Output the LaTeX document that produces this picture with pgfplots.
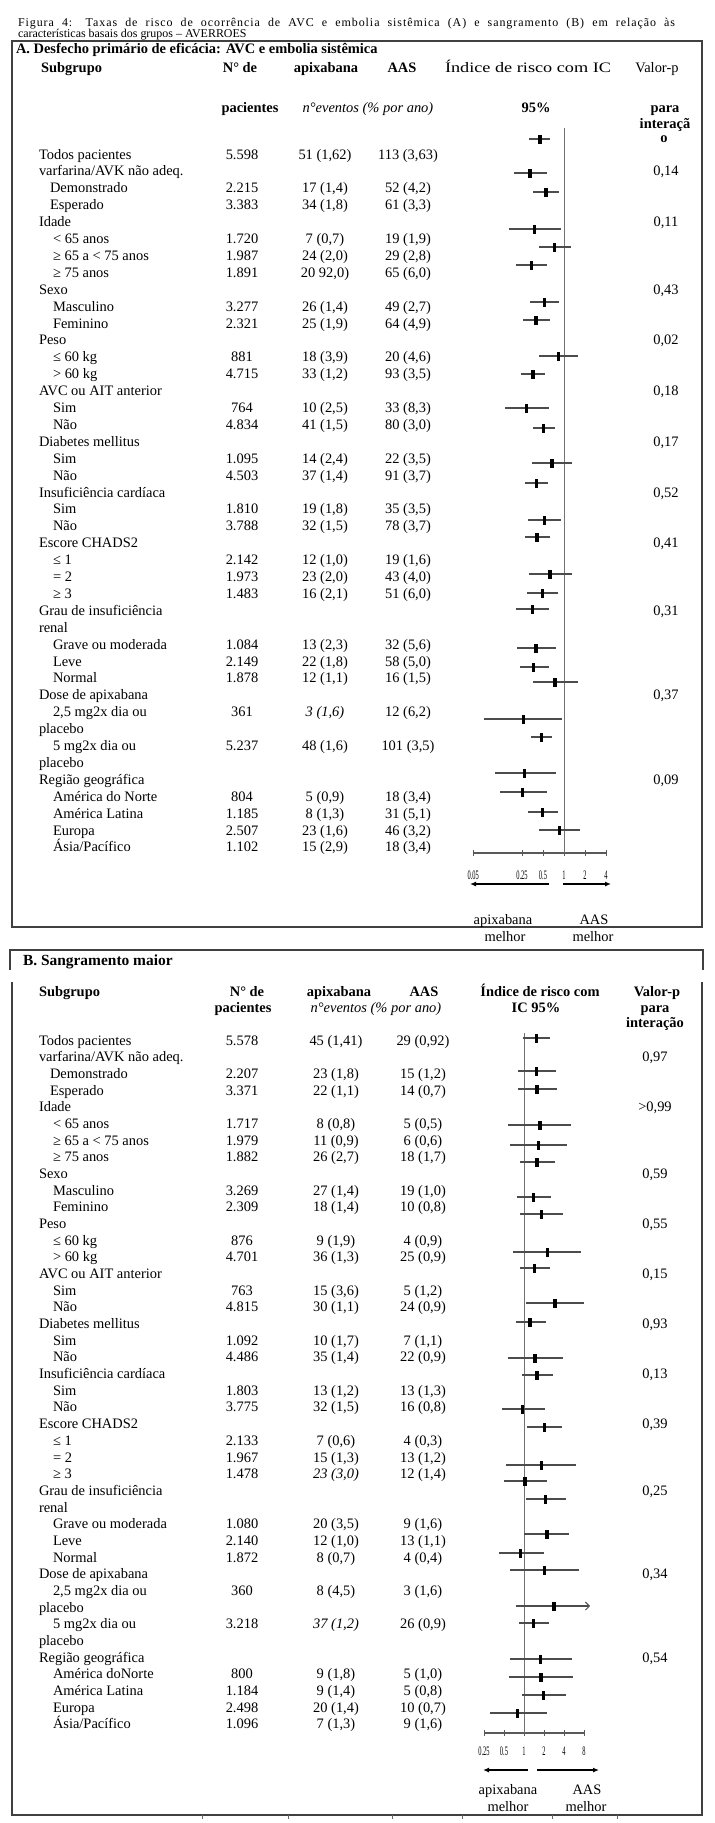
\documentclass[border=0pt]{standalone}
\usepackage{pgfplots}
\pgfplotsset{compat=1.18}
\usepackage{pgfplotstable}
\usepackage{graphicx}
\usepackage{fontspec}
\setmainfont{Liberation Serif}
\usetikzlibrary{arrows.meta}

\newcommand\fs{\fontsize{14.5}{17}\selectfont}
\newcommand\fsb{\fontsize{14.5}{17}\selectfont\bfseries}
\newcommand\fst{\fontsize{12}{13}\selectfont}
\newcommand\sq[1]{\scalebox{0.5}[1]{#1}}

\pgfdeclareplotmark{vbar}{\pgfpathrectangle{\pgfpoint{-1.7bp}{-4.5bp}}{\pgfpoint{3.4bp}{9bp}}\pgfusepathqfill}

\pgfplotstableread{
y lo hr hi
-139 0.32 0.45 0.62
-173 0.194 0.326 0.565
-192 0.363 0.552 0.848
-229 0.163 0.375 0.897
-247 0.438 0.727 1.25
-265 0.205 0.344 0.577
-302 0.326 0.522 0.84
-320 0.255 0.397 0.63
-356 0.443 0.84 1.57
-374 0.245 0.359 0.534
-408 0.144 0.289 0.603
-428 0.356 0.506 0.743
-463 0.344 0.673 1.30
-483 0.276 0.401 0.596
-520 0.302 0.522 0.906
-537 0.276 0.41 0.63
-574 0.318 0.63 1.29
-593 0.292 0.489 0.82
-609 0.205 0.352 0.616
-648 0.212 0.397 0.768
-667 0.234 0.368 0.616
-682 0.356 0.743 1.59
-719 0.072 0.261 0.936
-737 0.337 0.473 0.68
-773 0.1015 0.27 0.76
-792 0.122 0.253 0.565
-812 0.305 0.489 0.82
-830 0.443 0.857 1.70
}\forestA

\pgfplotstableread{
y lo hr hi
-1038 0.96 1.54 2.45
-1071 0.82 1.55 3.03
-1089 0.80 1.57 3.10
-1125 0.57 1.74 5.16
-1145 0.62 1.64 4.40
-1162 0.87 1.57 2.93
-1197 0.79 1.40 2.52
-1214 0.87 1.85 3.90
-1252 0.69 2.24 7.10
-1268 0.87 1.43 2.46
-1303 1.07 2.93 8.00
-1322 0.75 1.23 2.14
-1358 0.58 1.46 3.90
-1375 0.94 1.57 2.70
-1409 0.46 0.955 2.07
-1427 1.10 2.02 3.78
-1465 0.53 1.85 6.06
-1481 0.50 1.035 2.20
-1499 1.07 2.09 4.24
-1534 1.01 2.22 4.80
-1553 0.42 0.89 2.02
-1570 0.62 2.02 6.66
-1606 0.76 2.83 9.3
-1623 0.85 1.38 2.38
-1659 0.62 1.78 5.28
-1677 0.60 1.80 5.40
-1695 0.92 1.95 4.24
-1713 0.31 0.79 2.22
}\forestB

% rows: k, x, label, N, apix, AAS
\newcommand\RA[6]{%
  \node[anchor=base west] at (#2,{-(159+16.9*#1)}) {#3};
  \node[anchor=base] at (242,{-(159+16.9*#1)}) {#4};
  \node[anchor=base] at (325,{-(159+16.9*#1)}) {#5};
  \node[anchor=base] at (408,{-(159+16.9*#1)}) {#6};}
\newcommand\RB[6]{%
  \node[anchor=base west] at (#2,{-(1045+16.68*#1)}) {#3};
  \node[anchor=base] at (242,{-(1045+16.68*#1)}) {#4};
  \node[anchor=base] at (336,{-(1045+16.68*#1)}) {#5};
  \node[anchor=base] at (423,{-(1045+16.68*#1)}) {#6};}
\newcommand\PA[2]{\node[anchor=base] at (666,{-(159+16.9*#1)}) {#2};}
\newcommand\PB[2]{\node[anchor=base] at (655,{-(1045+16.68*#1)}) {#2};}

\begin{document}
\begin{tikzpicture}[x=1bp,y=1bp,every node/.style={inner sep=0pt,outer sep=0pt,font=\fs}]
\useasboundingbox (0,0) rectangle (715,-1823);

% ---------- title ----------
\node[anchor=base west,font=\fst] at (18,-26) {\addfontfeatures{LetterSpace=8}\makebox[657bp][s]{Figura 4: Taxas de risco de ocorrência de AVC e embolia sistêmica (A) e sangramento (B) em relação às}};
\node[anchor=base west,font=\fst] at (18,-37.5) {características basais dos grupos – AVERROES};

% ---------- panel A box ----------
\draw[line width=1.4bp,black!75] (12,-41) rectangle (702,-927);
\node[anchor=base west,font=\fsb] at (16,-53) {A. Desfecho primário de eficácia: AVC e embolia sistêmica};
\node[anchor=base west,font=\fsb] at (41,-72) {Subgrupo};
\node[anchor=base,font=\fsb] at (240,-72) {N° de};
\node[anchor=base,font=\fsb] at (326,-72) {apixabana};
\node[anchor=base,font=\fsb] at (402,-72) {AAS};
\node[anchor=base west] at (445,-72) {\resizebox{166bp}{\height}{Índice de risco com IC}};
\node[anchor=base] at (657,-72) {Valor-p};
\node[anchor=base,font=\fsb] at (250,-112) {pacientes};
\node[anchor=base,font=\fs\itshape] at (368,-112) {n°eventos (\% por ano)};
\node[anchor=base,font=\fsb] at (536,-112) {95\%};
\node[anchor=base,font=\fsb] at (665,-112) {para};
\node[anchor=base,font=\fsb] at (665,-128) {interaçã};
\node[anchor=base,font=\fsb] at (664,-142) {o};

\RA{0}{39}{Todos pacientes}{5.598}{51 (1,62)}{113 (3,63)}
\RA{1}{39}{varfarina/AVK não adeq.}{}{}{}
\RA{2}{50}{Demonstrado}{2.215}{17 (1,4)}{52 (4,2)}
\RA{3}{50}{Esperado}{3.383}{34 (1,8)}{61 (3,3)}
\RA{4}{39}{Idade}{}{}{}
\RA{5}{53}{< 65 anos}{1.720}{7 (0,7)}{19 (1,9)}
\RA{6}{53}{≥ 65 a < 75 anos}{1.987}{24 (2,0)}{29 (2,8)}
\RA{7}{53}{≥ 75 anos}{1.891}{20 92,0)}{65 (6,0)}
\RA{8}{39}{Sexo}{}{}{}
\RA{9}{53}{Masculino}{3.277}{26 (1,4)}{49 (2,7)}
\RA{10}{53}{Feminino}{2.321}{25 (1,9)}{64 (4,9)}
\RA{11}{39}{Peso}{}{}{}
\RA{12}{53}{≤ 60 kg}{881}{18 (3,9)}{20 (4,6)}
\RA{13}{53}{> 60 kg}{4.715}{33 (1,2)}{93 (3,5)}
\RA{14}{39}{AVC ou AIT anterior}{}{}{}
\RA{15}{53}{Sim}{764}{10 (2,5)}{33 (8,3)}
\RA{16}{53}{Não}{4.834}{41 (1,5)}{80 (3,0)}
\RA{17}{39}{Diabetes mellitus}{}{}{}
\RA{18}{53}{Sim}{1.095}{14 (2,4)}{22 (3,5)}
\RA{19}{53}{Não}{4.503}{37 (1,4)}{91 (3,7)}
\RA{20}{39}{Insuficiência cardíaca}{}{}{}
\RA{21}{53}{Sim}{1.810}{19 (1,8)}{35 (3,5)}
\RA{22}{53}{Não}{3.788}{32 (1,5)}{78 (3,7)}
\RA{23}{39}{Escore CHADS2}{}{}{}
\RA{24}{53}{≤ 1}{2.142}{12 (1,0)}{19 (1,6)}
\RA{25}{53}{= 2}{1.973}{23 (2,0)}{43 (4,0)}
\RA{26}{53}{≥ 3}{1.483}{16 (2,1)}{51 (6,0)}
\RA{27}{39}{Grau de insuficiência}{}{}{}
\RA{28}{39}{renal}{}{}{}
\RA{29}{53}{Grave ou moderada}{1.084}{13 (2,3)}{32 (5,6)}
\RA{30}{53}{Leve}{2.149}{22 (1,8)}{58 (5,0)}
\RA{31}{53}{Normal}{1.878}{12 (1,1)}{16 (1,5)}
\RA{32}{39}{Dose de apixabana}{}{}{}
\RA{33}{53}{2,5 mg2x dia ou}{361}{\itshape 3 (1,6)}{12 (6,2)}
\RA{34}{39}{placebo}{}{}{}
\RA{35}{53}{5 mg2x dia ou}{5.237}{48 (1,6)}{101 (3,5)}
\RA{36}{39}{placebo}{}{}{}
\RA{37}{39}{Região geográfica}{}{}{}
\RA{38}{53}{América do Norte}{804}{5 (0,9)}{18 (3,4)}
\RA{39}{53}{América Latina}{1.185}{8 (1,3)}{31 (5,1)}
\RA{40}{53}{Europa}{2.507}{23 (1,6)}{46 (3,2)}
\RA{41}{53}{Ásia/Pacífico}{1.102}{15 (2,9)}{18 (3,4)}

\PA{1}{0,14}\PA{4}{0,11}\PA{8}{0,43}\PA{11}{0,02}\PA{14}{0,18}\PA{17}{0,17}
\PA{20}{0,52}\PA{23}{0,41}\PA{27}{0,31}\PA{32}{0,37}\PA{37}{0,09}

\begin{axis}[
  at={(473.24bp,-853bp)}, anchor=south west,
  scale only axis, width=132.76bp, height=725bp,
  xmode=log, xmin=0.05, xmax=4, ymin=-853, ymax=-128,
  axis x line*=bottom, axis y line=none,
  x axis line style={-, black!65, line width=1.3bp},
  xtick={0.05,0.25,0.5,1,2,4}, minor xtick={},
  xticklabels={\sq{0.05},\sq{0.25},\sq{0.5},\sq{1},\sq{2},\sq{4}},
  xticklabel style={font=\fontsize{13}{13}\selectfont, anchor=center, yshift=-19bp},
  major tick length=6bp, tick align=center,
  every tick/.style={black!65, line width=1bp},
  clip=false,
]
\addplot[black!55, line width=1bp] coordinates {(1,-128) (1,-853)};
\addplot[only marks, mark=vbar, black, error bars/.cd, x dir=both, x explicit, error mark=none,
  error bar style={line width=1.3bp, black!70}]
  table[x=hr, y=y, x error plus expr=\thisrow{hi}-\thisrow{hr}, x error minus expr=\thisrow{hr}-\thisrow{lo}] {\forestA};
\addplot[only marks, mark=vbar, black] table[x=hr, y=y] {\forestA};
\end{axis}

\draw[line width=1.4bp, -{Latex[length=6bp,width=5bp]}] (549,-884) -- (470,-884);
\draw[line width=1.4bp, -{Latex[length=6bp,width=5bp]}] (563,-884) -- (611,-884);
\node[anchor=base] at (503,-924) {apixabana};
\node[anchor=base] at (505,-941) {melhor};
\node[anchor=base] at (594,-924) {AAS};
\node[anchor=base] at (593,-941) {melhor};

% ---------- panel B box ----------
\draw[line width=1.4bp,black!75] (10,-970) -- (10,-950) -- (703,-950) -- (703,-970);
\draw[line width=1.4bp,black!75] (12,-982) -- (12,-1815) -- (702,-1815) -- (702,-982);
\foreach \xx in {202,288,392,462,552,617} \draw[black!60,line width=0.8bp] (\xx,-1815) -- (\xx,-1819);
\node[anchor=base west,font=\fontsize{15.5}{17}\selectfont\bfseries] at (23,-965) {B. Sangramento maior};
\node[anchor=base west,font=\fsb] at (39,-996) {Subgrupo};
\node[anchor=base,font=\fsb] at (247,-996) {N° de};
\node[anchor=base,font=\fsb] at (339,-996) {apixabana};
\node[anchor=base,font=\fsb] at (424,-996) {AAS};
\node[anchor=base,font=\fsb] at (540,-996) {Índice de risco com};
\node[anchor=base,font=\fsb] at (657,-996) {Valor-p};
\node[anchor=base,font=\fsb] at (243,-1012) {pacientes};
\node[anchor=base,font=\fs\itshape] at (376,-1012) {n°eventos (\% por ano)};
\node[anchor=base,font=\fsb] at (536,-1012) {IC 95\%};
\node[anchor=base,font=\fsb] at (655,-1012) {para};
\node[anchor=base,font=\fsb] at (655,-1027) {interação};

\RB{0}{39}{Todos pacientes}{5.578}{45 (1,41)}{29 (0,92)}
\RB{1}{39}{varfarina/AVK não adeq.}{}{}{}
\RB{2}{50}{Demonstrado}{2.207}{23 (1,8)}{15 (1,2)}
\RB{3}{50}{Esperado}{3.371}{22 (1,1)}{14 (0,7)}
\RB{4}{39}{Idade}{}{}{}
\RB{5}{53}{< 65 anos}{1.717}{8 (0,8)}{5 (0,5)}
\RB{6}{53}{≥ 65 a < 75 anos}{1.979}{11 (0,9)}{6 (0,6)}
\RB{7}{53}{≥ 75 anos}{1.882}{26 (2,7)}{18 (1,7)}
\RB{8}{39}{Sexo}{}{}{}
\RB{9}{53}{Masculino}{3.269}{27 (1,4)}{19 (1,0)}
\RB{10}{53}{Feminino}{2.309}{18 (1,4)}{10 (0,8)}
\RB{11}{39}{Peso}{}{}{}
\RB{12}{53}{≤ 60 kg}{876}{9 (1,9)}{4 (0,9)}
\RB{13}{53}{> 60 kg}{4.701}{36 (1,3)}{25 (0,9)}
\RB{14}{39}{AVC ou AIT anterior}{}{}{}
\RB{15}{53}{Sim}{763}{15 (3,6)}{5 (1,2)}
\RB{16}{53}{Não}{4.815}{30 (1,1)}{24 (0,9)}
\RB{17}{39}{Diabetes mellitus}{}{}{}
\RB{18}{53}{Sim}{1.092}{10 (1,7)}{7 (1,1)}
\RB{19}{53}{Não}{4.486}{35 (1,4)}{22 (0,9)}
\RB{20}{39}{Insuficiência cardíaca}{}{}{}
\RB{21}{53}{Sim}{1.803}{13 (1,2)}{13 (1,3)}
\RB{22}{53}{Não}{3.775}{32 (1,5)}{16 (0,8)}
\RB{23}{39}{Escore CHADS2}{}{}{}
\RB{24}{53}{≤ 1}{2.133}{7 (0,6)}{4 (0,3)}
\RB{25}{53}{= 2}{1.967}{15 (1,3)}{13 (1,2)}
\RB{26}{53}{≥ 3}{1.478}{\itshape 23 (3,0)}{12 (1,4)}
\RB{27}{39}{Grau de insuficiência}{}{}{}
\RB{28}{39}{renal}{}{}{}
\RB{29}{53}{Grave ou moderada}{1.080}{20 (3,5)}{9 (1,6)}
\RB{30}{53}{Leve}{2.140}{12 (1,0)}{13 (1,1)}
\RB{31}{53}{Normal}{1.872}{8 (0,7)}{4 (0,4)}
\RB{32}{39}{Dose de apixabana}{}{}{}
\RB{33}{53}{2,5 mg2x dia ou}{360}{8 (4,5)}{3 (1,6)}
\RB{34}{39}{placebo}{}{}{}
\RB{35}{53}{5 mg2x dia ou}{3.218}{\itshape 37 (1,2)}{26 (0,9)}
\RB{36}{39}{placebo}{}{}{}
\RB{37}{39}{Região geográfica}{}{}{}
\RB{38}{53}{América doNorte}{800}{9 (1,8)}{5 (1,0)}
\RB{39}{53}{América Latina}{1.184}{9 (1,4)}{5 (0,8)}
\RB{40}{53}{Europa}{2.498}{20 (1,4)}{10 (0,7)}
\RB{41}{53}{Ásia/Pacífico}{1.096}{7 (1,3)}{9 (1,6)}

\PB{1}{0,97}\PB{4}{>0,99}\PB{8}{0,59}\PB{11}{0,55}\PB{14}{0,15}\PB{17}{0,93}
\PB{20}{0,13}\PB{23}{0,39}\PB{27}{0,25}\PB{32}{0,34}\PB{37}{0,54}

\begin{axis}[
  at={(484bp,-1733bp)}, anchor=south west,
  scale only axis, width=100bp, height=703bp,
  xmode=log, xmin=0.25, xmax=8, ymin=-1733, ymax=-1030,
  axis x line*=bottom, axis y line=none,
  x axis line style={-, black!65, line width=1.3bp},
  xtick={0.25,0.5,1,2,4,8}, minor xtick={},
  xticklabels={\sq{0.25},\sq{0.5},\sq{1},\sq{2},\sq{4},\sq{8}},
  xticklabel style={font=\fontsize{13}{13}\selectfont, anchor=center, yshift=-15bp},
  major tick length=6bp, tick align=center,
  every tick/.style={black!65, line width=1bp},
  clip=false,
]
\addplot[black!55, line width=1bp] coordinates {(1,-1033) (1,-1733)};
\addplot[only marks, mark=vbar, black, error bars/.cd, x dir=both, x explicit, error mark=none,
  error bar style={line width=1.3bp, black!70}]
  table[x=hr, y=y, x error plus expr=\thisrow{hi}-\thisrow{hr}, x error minus expr=\thisrow{hr}-\thisrow{lo}] {\forestB};
\addplot[only marks, mark=vbar, black] table[x=hr, y=y] {\forestB};
\addplot[black!70, line width=1bp, -{Straight Barb[length=4bp,width=8bp]}] coordinates {(8.5,-1606) (9.9,-1606)};
\end{axis}

\draw[line width=1.4bp, -{Latex[length=6bp,width=5bp]}] (528,-1770) -- (483,-1770);
\draw[line width=1.4bp, -{Latex[length=6bp,width=5bp]}] (537,-1770) -- (599,-1770);
\node[anchor=base] at (508,-1794) {apixabana};
\node[anchor=base] at (508,-1811) {melhor};
\node[anchor=base] at (587,-1794) {AAS};
\node[anchor=base] at (586,-1811) {melhor};
\end{tikzpicture}
\end{document}
